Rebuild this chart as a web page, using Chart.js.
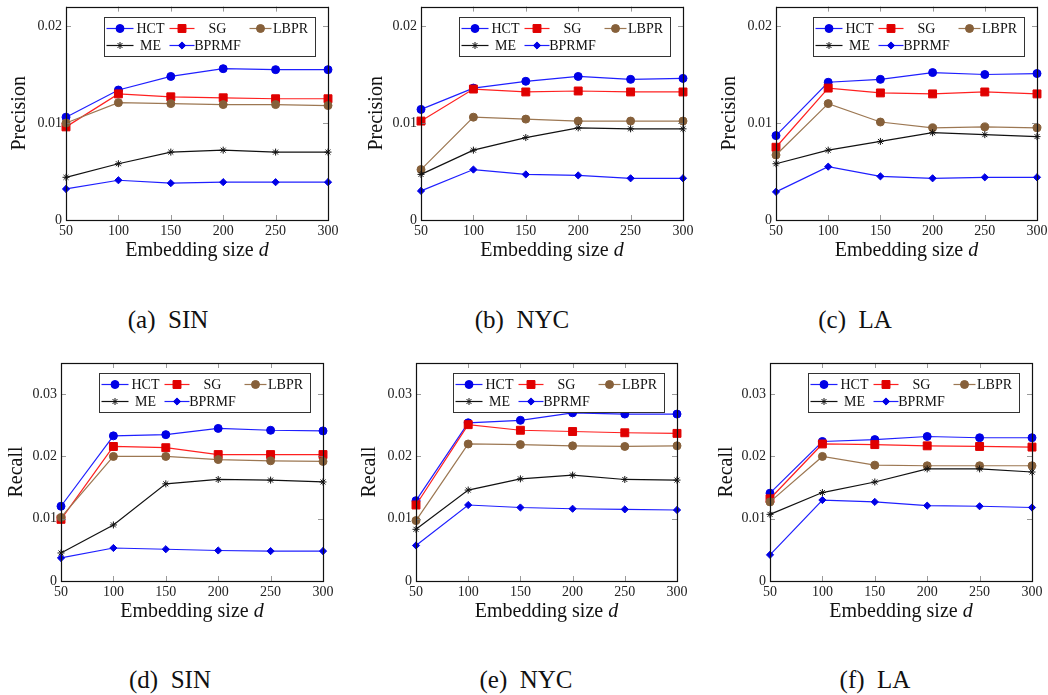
<!DOCTYPE html>
<html>
<head>
<meta charset="utf-8">
<script src="https://cdn.jsdelivr.net/npm/chart.js@4.4.0/dist/chart.umd.min.js"></script>
<style>
body{margin:0;background:#fff;width:1048px;height:695px;position:relative;overflow:hidden;font-family:"Liberation Serif",serif;}
canvas{position:absolute;}
.cap{position:absolute;font-size:25px;color:#111;transform:translate(-50%,-50%);white-space:pre;line-height:1;}
</style>
</head>
<body>
<canvas id="pa" width="350" height="270" style="left:0;top:0"></canvas>
<canvas id="pb" width="350" height="270" style="left:350px;top:0"></canvas>
<canvas id="pc" width="348" height="270" style="left:700px;top:0"></canvas>
<canvas id="pd" width="350" height="270" style="left:0;top:355px"></canvas>
<canvas id="pe" width="350" height="270" style="left:350px;top:355px"></canvas>
<canvas id="pf" width="348" height="270" style="left:700px;top:355px"></canvas>
<div class="cap" style="left:168px;top:319px">(a)  SIN</div>
<div class="cap" style="left:522px;top:319px">(b)  NYC</div>
<div class="cap" style="left:855px;top:319px">(c)  LA</div>
<div class="cap" style="left:170px;top:679px">(d)  SIN</div>
<div class="cap" style="left:526px;top:679px">(e)  NYC</div>
<div class="cap" style="left:875px;top:679px">(f)  LA</div>
<script>
const embeddingSizes = [50, 100, 150, 200, 250, 300];
const methods = ["HCT", "SG", "LBPR", "ME", "BPRMF"];
const precisionTicks = [0, 0.01, 0.02];
const recallTicks = [0, 0.01, 0.02, 0.03];

/* ---------- precision ---------- */
const precSinHCT   = [0.0106, 0.0134, 0.0148, 0.0156, 0.0155, 0.0155];
const precSinSG    = [0.0096, 0.0130, 0.0127, 0.0126, 0.0125, 0.0125];
const precSinLBPR  = [0.0100, 0.0121, 0.0120, 0.0119, 0.0119, 0.0118];
const precSinME    = [0.0044, 0.0058, 0.0070, 0.0072, 0.0070, 0.0070];
const precSinBPRMF = [0.0032, 0.0041, 0.0038, 0.0039, 0.0039, 0.0039];

const precNycHCT   = [0.0114, 0.0136, 0.0143, 0.0148, 0.0145, 0.0146];
const precNycSG    = [0.0102, 0.0135, 0.0132, 0.0133, 0.0132, 0.0132];
const precNycLBPR  = [0.0052, 0.0106, 0.0104, 0.0102, 0.0102, 0.0102];
const precNycME    = [0.0047, 0.0072, 0.0085, 0.0095, 0.0094, 0.0094];
const precNycBPRMF = [0.0030, 0.0052, 0.0047, 0.0046, 0.0043, 0.0043];

const precLaHCT   = [0.0087, 0.0142, 0.0145, 0.0152, 0.0150, 0.0151];
const precLaSG    = [0.0075, 0.0136, 0.0131, 0.0130, 0.0132, 0.0130];
const precLaLBPR  = [0.0067, 0.0120, 0.0101, 0.0095, 0.0096, 0.0095];
const precLaME    = [0.0058, 0.0072, 0.0081, 0.0090, 0.0088, 0.0086];
const precLaBPRMF = [0.0029, 0.0055, 0.0045, 0.0043, 0.0044, 0.0044];

/* ---------- recall ---------- */
const recSinHCT   = [0.0120, 0.0233, 0.0235, 0.0245, 0.0242, 0.0241];
const recSinSG    = [0.0099, 0.0216, 0.0214, 0.0203, 0.0203, 0.0203];
const recSinLBPR  = [0.0102, 0.0200, 0.0200, 0.0195, 0.0193, 0.0192];
const recSinME    = [0.0045, 0.0090, 0.0156, 0.0163, 0.0162, 0.0159];
const recSinBPRMF = [0.0037, 0.0053, 0.0051, 0.0049, 0.0048, 0.0048];

const recNycHCT   = [0.0129, 0.0254, 0.0258, 0.0270, 0.0268, 0.0268];
const recNycSG    = [0.0122, 0.0251, 0.0242, 0.0240, 0.0238, 0.0237];
const recNycLBPR  = [0.0097, 0.0220, 0.0219, 0.0217, 0.0216, 0.0217];
const recNycME    = [0.0083, 0.0146, 0.0164, 0.0170, 0.0163, 0.0162];
const recNycBPRMF = [0.0057, 0.0122, 0.0118, 0.0116, 0.0115, 0.0114];

const recLaHCT   = [0.0141, 0.0224, 0.0227, 0.0232, 0.0230, 0.0230];
const recLaSG    = [0.0132, 0.0220, 0.0219, 0.0217, 0.0216, 0.0215];
const recLaLBPR  = [0.0127, 0.0200, 0.0186, 0.0185, 0.0185, 0.0185];
const recLaME    = [0.0107, 0.0142, 0.0159, 0.0180, 0.0180, 0.0175];
const recLaBPRMF = [0.0042, 0.0130, 0.0127, 0.0121, 0.0120, 0.0118];

/* ---------- styles ---------- */
const styles = {
    HCT:   {line:"#1f1fff", fill:"#0000e6", point:"circle",  r:4},
    SG:    {line:"#ff2020", fill:"#e00000", point:"rect",    r:5.6},
    LBPR:  {line:"#9c7752", fill:"#86603a", point:"circle",  r:4},
    ME:    {line:"#111111", fill:"#111111", point:"star",    r:3.5},
    BPRMF: {line:"#1f1fff", fill:"#0000e6", point:"rectRot", r:3.6}
};

const SERIF = "'Liberation Serif', serif";

function drawMarker(ctx, st, x, y){
    ctx.save();
    ctx.fillStyle = st.fill;
    ctx.strokeStyle = st.fill;
    ctx.lineWidth = 1;
    if (Chart.helpers && Chart.helpers.drawPoint) {
        Chart.helpers.drawPoint(ctx, {pointStyle:st.point, radius:st.r, rotation:0, borderWidth:1}, x, y);
    } else {
        ctx.beginPath(); ctx.arc(x, y, st.r, 0, Math.PI*2); ctx.fill();
    }
    ctx.restore();
}

/* ---------- frame, inward ticks, legend, x title ---------- */
const decor = {
    id:"decor",
    afterDatasetsDraw(chart){
        const ctx = chart.ctx, a = chart.chartArea;
        const xs = chart.scales.x, ys = chart.scales.y;
        ctx.save();
        // inward tick marks on all four sides
        ctx.strokeStyle = "#808080";
        ctx.lineWidth = 0.8;
        ctx.beginPath();
        xs.ticks.forEach(t=>{
            const px = Math.round(xs.getPixelForValue(t.value)) + 0.5;
            ctx.moveTo(px, a.bottom); ctx.lineTo(px, a.bottom - 5);
            ctx.moveTo(px, a.top);    ctx.lineTo(px, a.top + 5);
        });
        ys.ticks.forEach(t=>{
            const py = Math.round(ys.getPixelForValue(t.value)) + 0.5;
            ctx.moveTo(a.left, py);  ctx.lineTo(a.left + 5, py);
            ctx.moveTo(a.right, py); ctx.lineTo(a.right - 5, py);
        });
        ctx.stroke();
        // box
        ctx.strokeStyle = "#111";
        ctx.lineWidth = 1.2;
        ctx.strokeRect(Math.round(a.left)+0.5, Math.round(a.top)+0.5,
                       Math.round(a.right-a.left), Math.round(a.bottom-a.top));

        // legend box in top-right corner
        const lw = 211, lh = 39;
        const lx = Math.round(a.right - 13 - lw) + 0.5, ly = Math.round(a.top + 10) + 0.5;
        ctx.fillStyle = "#fff";
        ctx.fillRect(lx, ly, lw, lh);
        ctx.strokeStyle = "#333";
        ctx.lineWidth = 1;
        ctx.strokeRect(lx, ly, lw, lh);
        const cols = [{s:0, len:27, t:46}, {s:63, len:25, t:113}, {s:143, len:22, t:186}];
        ctx.font = "14px " + SERIF;
        ctx.textAlign = "center";
        ctx.textBaseline = "middle";
        chart.data.datasets.forEach((ds, i)=>{
            const c = cols[i % 3];
            const y = ly + (i < 3 ? 11 : 28);
            const st = styles[ds.label];
            ctx.strokeStyle = st.line;
            ctx.lineWidth = 1.2;
            ctx.beginPath();
            ctx.moveTo(lx + c.s + 2, y); ctx.lineTo(lx + c.s + 2 + c.len, y);
            ctx.stroke();
            drawMarker(ctx, st, lx + c.s + 2 + c.len/2, y);
            ctx.fillStyle = "#111";
            ctx.fillText(ds.label, lx + c.t, y + 1);
        });

        // x axis title with italic d
        const cx = (a.left + a.right) / 2, ty = a.bottom + 31;
        const f1 = "20px " + SERIF, f2 = "italic 20px " + SERIF;
        ctx.font = f1;
        const w1 = ctx.measureText("Embedding size ").width;
        ctx.font = f2;
        const w2 = ctx.measureText("d").width;
        const sx = cx - (w1 + w2) / 2;
        ctx.textAlign = "left";
        ctx.fillStyle = "#111";
        ctx.font = f1; ctx.fillText("Embedding size ", sx, ty);
        ctx.font = f2; ctx.fillText("d", sx + w1, ty);
        ctx.restore();
    }
};

/* ---------- build one panel ---------- */
function makePanel(id, geo, yTitle, yMax, yTicks, series){
    const datasets = methods.map((m, i)=>({
        label:m,
        data:embeddingSizes.map((x, k)=>({x, y:series[i][k]})),
        borderColor:styles[m].line,
        backgroundColor:styles[m].fill,
        pointBorderColor:styles[m].fill,
        pointBackgroundColor:styles[m].fill,
        pointStyle:styles[m].point,
        pointRadius:styles[m].r,
        pointBorderWidth:1,
        borderWidth:1.2,
        tension:0,
        clip:false,
        order:-i
    }));

    new Chart(document.getElementById(id), {
        type:"line",
        data:{datasets},
        plugins:[decor],
        options:{
            responsive:false,
            animation:false,
            layout:{padding:{left:0, top:geo.top, right:geo.right, bottom:0}},
            plugins:{legend:{display:false}, tooltip:{enabled:false}},
            scales:{
                x:{
                    type:"linear", min:50, max:300,
                    grid:{display:false, drawTicks:false},
                    border:{display:false},
                    afterBuildTicks:s=>{ s.ticks = embeddingSizes.map(v=>({value:v})); },
                    afterFit:s=>{ s.height = geo.xh; s.paddingLeft = 0; s.paddingRight = 0; },
                    ticks:{padding:3, maxRotation:0, autoSkip:false,
                           font:{family:SERIF, size:14}, color:"#222",
                           callback:v=>String(v)}
                },
                y:{
                    min:0, max:yMax,
                    grid:{display:false, drawTicks:false},
                    border:{display:false},
                    afterBuildTicks:s=>{ s.ticks = yTicks.map(v=>({value:v})); },
                    afterFit:s=>{ s.width = geo.yw; s.paddingTop = 0; s.paddingBottom = 0; },
                    ticks:{padding:4, font:{family:SERIF, size:14}, color:"#222",
                           callback:v=>v === 0 ? "0" : v.toFixed(2)},
                    title:{display:true, text:yTitle, color:"#111",
                           font:{family:SERIF, size:20}, padding:{top:geo.tp, bottom:0}}
                }
            }
        }
    });
}

makePanel("pa", {yw:66, right:22, top:3, xh:50, tp:7.8}, "Precision", 0.022, precisionTicks,
    [precSinHCT, precSinSG, precSinLBPR, precSinME, precSinBPRMF]);
makePanel("pb", {yw:71, right:17, top:3, xh:50, tp:14.8}, "Precision", 0.022, precisionTicks,
    [precNycHCT, precNycSG, precNycLBPR, precNycME, precNycBPRMF]);
makePanel("pc", {yw:76, right:11, top:3, xh:50, tp:17.8}, "Precision", 0.022, precisionTicks,
    [precLaHCT, precLaSG, precLaLBPR, precLaME, precLaBPRMF]);
makePanel("pd", {yw:61, right:27, top:8, xh:44, tp:4.8}, "Recall", 0.035, recallTicks,
    [recSinHCT, recSinSG, recSinLBPR, recSinME, recSinBPRMF]);
makePanel("pe", {yw:66, right:23, top:8, xh:44, tp:7.8}, "Recall", 0.035, recallTicks,
    [recNycHCT, recNycSG, recNycLBPR, recNycME, recNycBPRMF]);
makePanel("pf", {yw:70, right:16, top:8, xh:44, tp:14.8}, "Recall", 0.035, recallTicks,
    [recLaHCT, recLaSG, recLaLBPR, recLaME, recLaBPRMF]);
</script>
</body>
</html>
